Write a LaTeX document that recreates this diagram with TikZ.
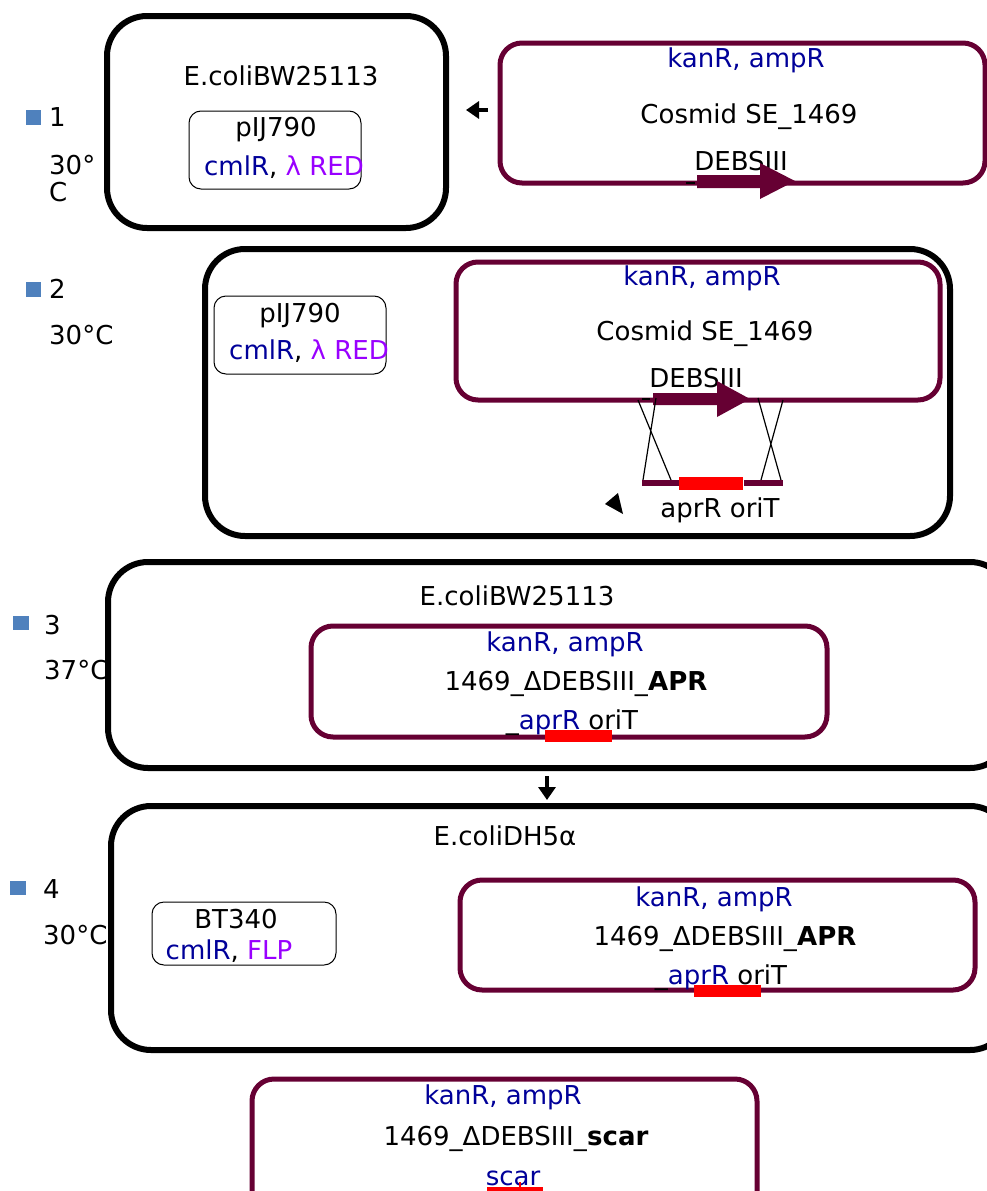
\documentclass[tikz,border=0pt]{standalone}
\usepackage{fontspec}
\setmainfont{DejaVu Sans}
\usepackage{xcolor}
\usepackage{tikz}
\usetikzlibrary{arrows.meta}

\definecolor{plasmid}{RGB}{102,0,51}
\definecolor{markblue}{RGB}{0,0,153}
\definecolor{markviolet}{RGB}{153,0,255}
\definecolor{bulletblue}{RGB}{79,129,189}

\begin{document}
\begin{tikzpicture}[x=1pt,y=-1pt,
  every node/.style={font=\fontsize{26}{30}\selectfont,inner sep=0pt,
    text height=20pt,text depth=6pt},
  cell/.style={draw=black,line width=6pt,rounded corners=40pt},
  cosmid/.style={draw=plasmid,line width=5pt,rounded corners=22pt},
  helper/.style={draw=black,line width=1pt,rounded corners=12pt},
  bullet/.style={fill=bulletblue},
  gene/.style={fill=plasmid},
  stepto/.style={-{Triangle[length=13pt,width=17pt]},line width=4pt}]
  \useasboundingbox (0,0) rectangle (987,1191);
  \clip (0,0) rectangle (987,1191);

  % step 1
  \fill[bullet] (26,110) rectangle (41,125);
  \node[anchor=west] (num1) at (49,119) {1};
  \node[anchor=west] (temp1a) at (49,167) {30°};
  \node[anchor=west] (temp1b) at (49,194) {C};
  \draw[cell] (107,16) rectangle (446,228);
  \node (host1) at (281,78) {E.coliBW25113};
  \draw[helper] (189,111) rectangle (361,189);
  \node (help1) at (276,129) {pIJ790};
  \node (res1) at (284,168) {{\color{markblue}cmlR}, {\color{markviolet}λ RED}};
  \draw[cosmid] (500,43) rectangle (985,183);
  \node (kan1) at (746,60) {\color{markblue}kanR, ampR};
  \node (cos1) at (749,116) {Cosmid SE\_1469};
  \node (debs1) at (741,163) {DEBSIII};
  \fill[gene] (697,175) -- (760,175) -- (760,163) -- (795,181) -- (760,199)
    -- (760,188) -- (697,188) -- cycle;
  \draw[line width=1.5pt] (686,183) -- (695,183);
  \coordinate (from1) at (488,110);
  \coordinate (to1) at (466,110);
  \draw[stepto] (from1) -- (to1);

  % step 2
  \fill[bullet] (26,282) rectangle (41,297);
  \node[anchor=west] (num2) at (49,291) {2};
  \node[anchor=west] (temp2) at (49,337) {30°C};
  \draw[cell] (205,249) rectangle (950,536);
  \draw[helper] (214,296) rectangle (386,374);
  \node (help2) at (300,315) {pIJ790};
  \node (res2) at (309,352) {{\color{markblue}cmlR}, {\color{markviolet}λ RED}};
  \draw[cosmid] (456,262) rectangle (940,400);
  \node (kan2) at (702,278) {\color{markblue}kanR, ampR};
  \node (cos2) at (705,333) {Cosmid SE\_1469};
  \node (debs2) at (696,380) {DEBSIII};
  \fill[gene] (653,393) -- (717,393) -- (717,381) -- (750,399) -- (717,417)
    -- (717,405) -- (653,405) -- cycle;
  \draw[line width=1.5pt] (642,399) -- (650,399);
  \draw[line width=1.2pt] (638,400) -- (671,480) (656,398) -- (643,480);
  \draw[line width=1.2pt] (758,398) -- (781,480) (783,400) -- (761,480);
  \draw[plasmid,line width=6pt] (642,483) -- (679,483) (744,483) -- (783,483);
  \fill[red] (679,477) rectangle (743,490);
  \node (cass2) at (720,510) {aprR oriT};
  \fill (605,504) -- (618,493) -- (623,514) -- cycle;

  % step 3
  \fill[bullet] (13,616) rectangle (29,630);
  \node[anchor=west] (num3) at (44,627) {3};
  \node[anchor=west] (temp3) at (44,672) {37°C};
  \draw[cell] (108,562) rectangle (1010,768);
  \node (host3) at (517,598) {E.coliBW25113};
  \draw[cosmid] (311,626) rectangle (827,737);
  \node (kan3) at (565,644) {\color{markblue}kanR, ampR};
  \node (cos3) at (576,683) {1469\_ΔDEBSIII\_\textbf{APR}};
  \fill[red] (545,730) rectangle (612,742);
  \node (cass3) at (572,722) {\_{\color{markblue}aprR} oriT};
  \coordinate (from3) at (547,776);
  \coordinate (to3) at (547,800);
  \draw[stepto] (from3) -- (to3);

  % step 4
  \fill[bullet] (10,881) rectangle (26,895);
  \node[anchor=west] (num4) at (43,891) {4};
  \node[anchor=west] (temp4) at (43,937) {30°C};
  \draw[cell] (111,806) rectangle (1010,1050);
  \node (host4) at (505,838) {E.coliDH5α};
  \draw[helper] (152,902) rectangle (336,965);
  \node (help4) at (236,921) {BT340};
  \node (res4) at (229,952) {{\color{markblue}cmlR}, {\color{markviolet}FLP}};
  \draw[cosmid] (460,880) rectangle (975,990);
  \node (kan4) at (714,899) {\color{markblue}kanR, ampR};
  \node (cos4) at (725,938) {1469\_ΔDEBSIII\_\textbf{APR}};
  \fill[red] (694,985) rectangle (761,997);
  \node (cass4) at (721,977) {\_{\color{markblue}aprR} oriT};

  % step 5
  \draw[cosmid] (252,1079) rectangle (757,1215);
  \node (kan5) at (503,1097) {\color{markblue}kanR, ampR};
  \node (cos5) at (516,1138) {1469\_ΔDEBSIII\_\textbf{scar}};
  \node (scar5) at (513,1178) {\color{markblue}scar};
  \fill[red] (487,1187) rectangle (543,1191);
  \draw[red,line width=1.5pt] (520,1182) -- (520,1189);
\end{tikzpicture}
\end{document}
